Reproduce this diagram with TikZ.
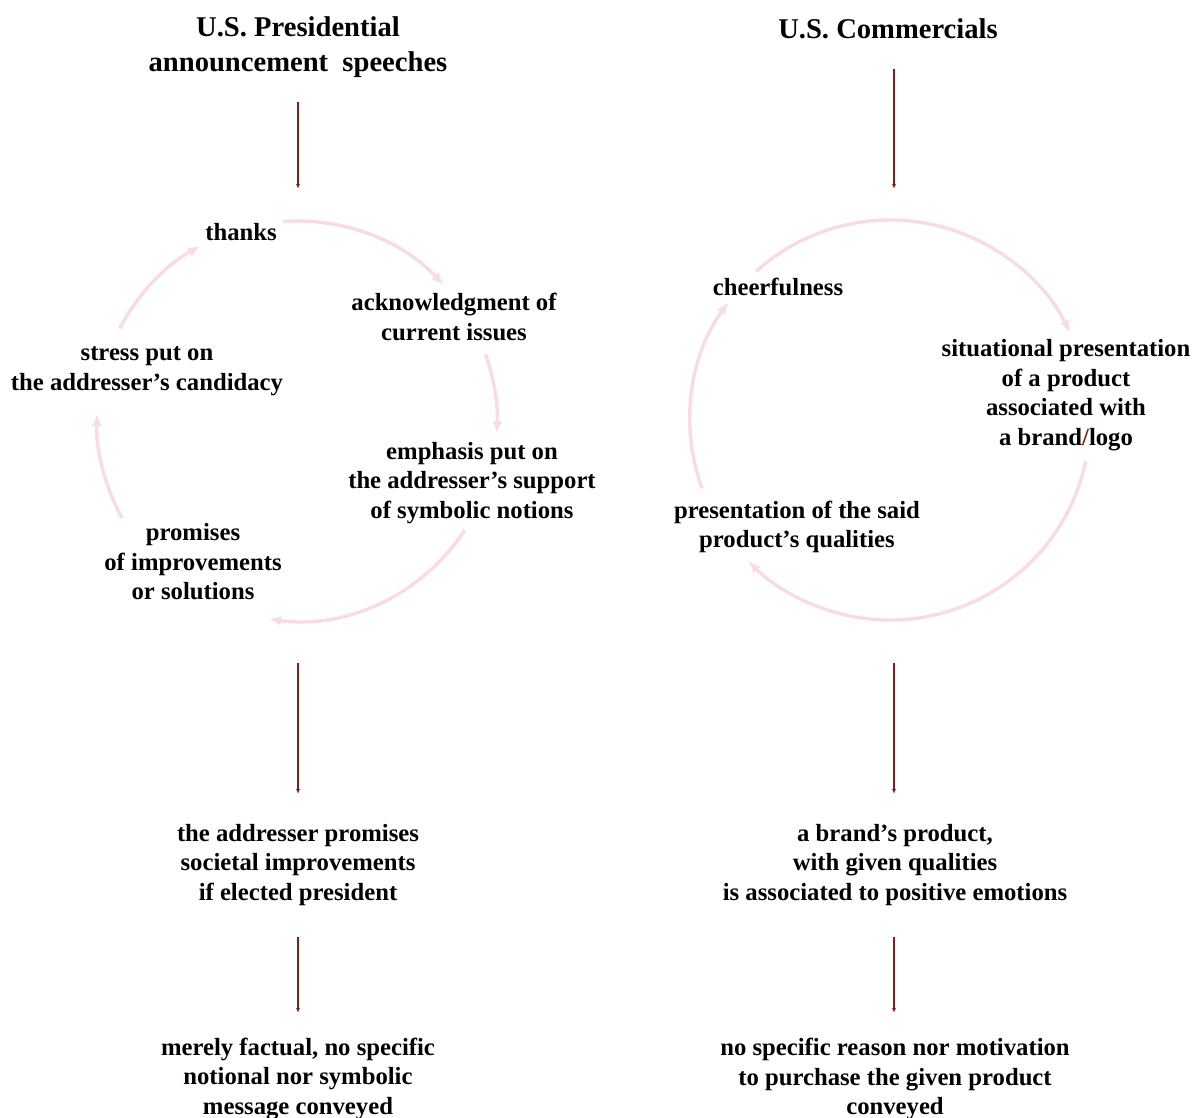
\documentclass[tikz,border=0pt]{standalone}
\usepackage{fontspec}
\setmainfont{Liberation Serif}
\usetikzlibrary{arrows.meta}
\definecolor{arcpink}{HTML}{F8DCE2}
\definecolor{darkred}{HTML}{8B1A1A}
\tikzset{
  lbl/.style={align=center,inner sep=0pt,font=\fontsize{24.7}{29.5}\selectfont\bfseries},
  ttl/.style={align=center,inner sep=0pt,font=\fontsize{28.6}{35}\selectfont\bfseries},
  pinkarc/.style={draw=arcpink,line width=3.4pt,-{Latex[length=12pt,width=10pt]}},
  redarrow/.style={draw=darkred,line width=1.1pt,-{Latex[length=5pt,width=4pt]}}
}
\begin{document}
\begin{tikzpicture}[x=1pt,y=-1pt]
\useasboundingbox (0,0) rectangle (1199,1118);
% titles
\node[ttl] (t1) at (298,47) {U.S. Presidential\\announcement\ \ speeches};
\node[ttl] (t2) at (888,29) {U.S. Commercials};
% circle centres
\coordinate (cl) at (297,421);
\coordinate (cr) at (890,420);
% left cycle labels
\node[lbl] (thanks) at (241,232) {thanks};
\node[lbl] (ack) at (454,317) {acknowledgment of\\current issues};
\node[lbl] (stress) at (147,371) {stress put on\\the addresser’s candidacy};
\node[lbl] (emph) at (472,483) {emphasis put on\\the addresser’s support\\of symbolic notions};
\node[lbl] (prom) at (193,562) {promises\\of improvements\\or solutions};
% right cycle labels
\node[lbl] (cheer) at (778,287) {cheerfulness};
\node[lbl] (situ) at (1066,395) {situational presentation\\of a product\\associated with\\a brand{\color{darkred}/}logo};
\node[lbl] (pres) at (797,527) {presentation of the said\\product’s qualities};
% results
\node[lbl] (l1) at (298,865) {the addresser promises\\societal improvements\\if elected president};
\node[lbl] (r1) at (895,865) {a brand’s product,\\with given qualities\\is associated to positive emotions};
\node[lbl] (l2) at (298,1079) {merely factual, no specific\\notional nor symbolic\\message conveyed};
\node[lbl] (r2) at (895,1079) {no specific reason nor motivation\\to purchase the given product\\conveyed};
% left cycle arcs
\draw[pinkarc] (cl) ++(94:200pt) arc[start angle=94,end angle=43,radius=200pt];
\draw[pinkarc] (cl) ++(19.5:200pt) arc[start angle=19.5,end angle=-3.5,radius=200pt];
\draw[pinkarc] (cl) ++(-33:200pt) arc[start angle=-33,end angle=-98,radius=200pt];
\draw[pinkarc] (cl) ++(209:200pt) arc[start angle=209,end angle=178,radius=200pt];
\draw[pinkarc] (cl) ++(152.5:200pt) arc[start angle=152.5,end angle=119,radius=200pt];
% right cycle arcs
\draw[pinkarc] (cr) ++(132:200pt) arc[start angle=132,end angle=26,radius=200pt];
\draw[pinkarc] (cr) ++(-12:200pt) arc[start angle=-12,end angle=-135,radius=200pt];
\draw[pinkarc] (cr) ++(200:200pt) arc[start angle=200,end angle=144,radius=200pt];
% vertical arrows
\coordinate (a1s) at (298,102); \coordinate (a1e) at (298,189);
\coordinate (a2s) at (894,69);  \coordinate (a2e) at (894,189);
\coordinate (a3s) at (298,663); \coordinate (a3e) at (298,794);
\coordinate (a4s) at (894,663); \coordinate (a4e) at (894,794);
\coordinate (a5s) at (298,937); \coordinate (a5e) at (298,1013);
\coordinate (a6s) at (894,937); \coordinate (a6e) at (894,1013);
\draw[redarrow] (a1s) -- (a1e);
\draw[redarrow] (a2s) -- (a2e);
\draw[redarrow] (a3s) -- (a3e);
\draw[redarrow] (a4s) -- (a4e);
\draw[redarrow] (a5s) -- (a5e);
\draw[redarrow] (a6s) -- (a6e);
\end{tikzpicture}
\end{document}
